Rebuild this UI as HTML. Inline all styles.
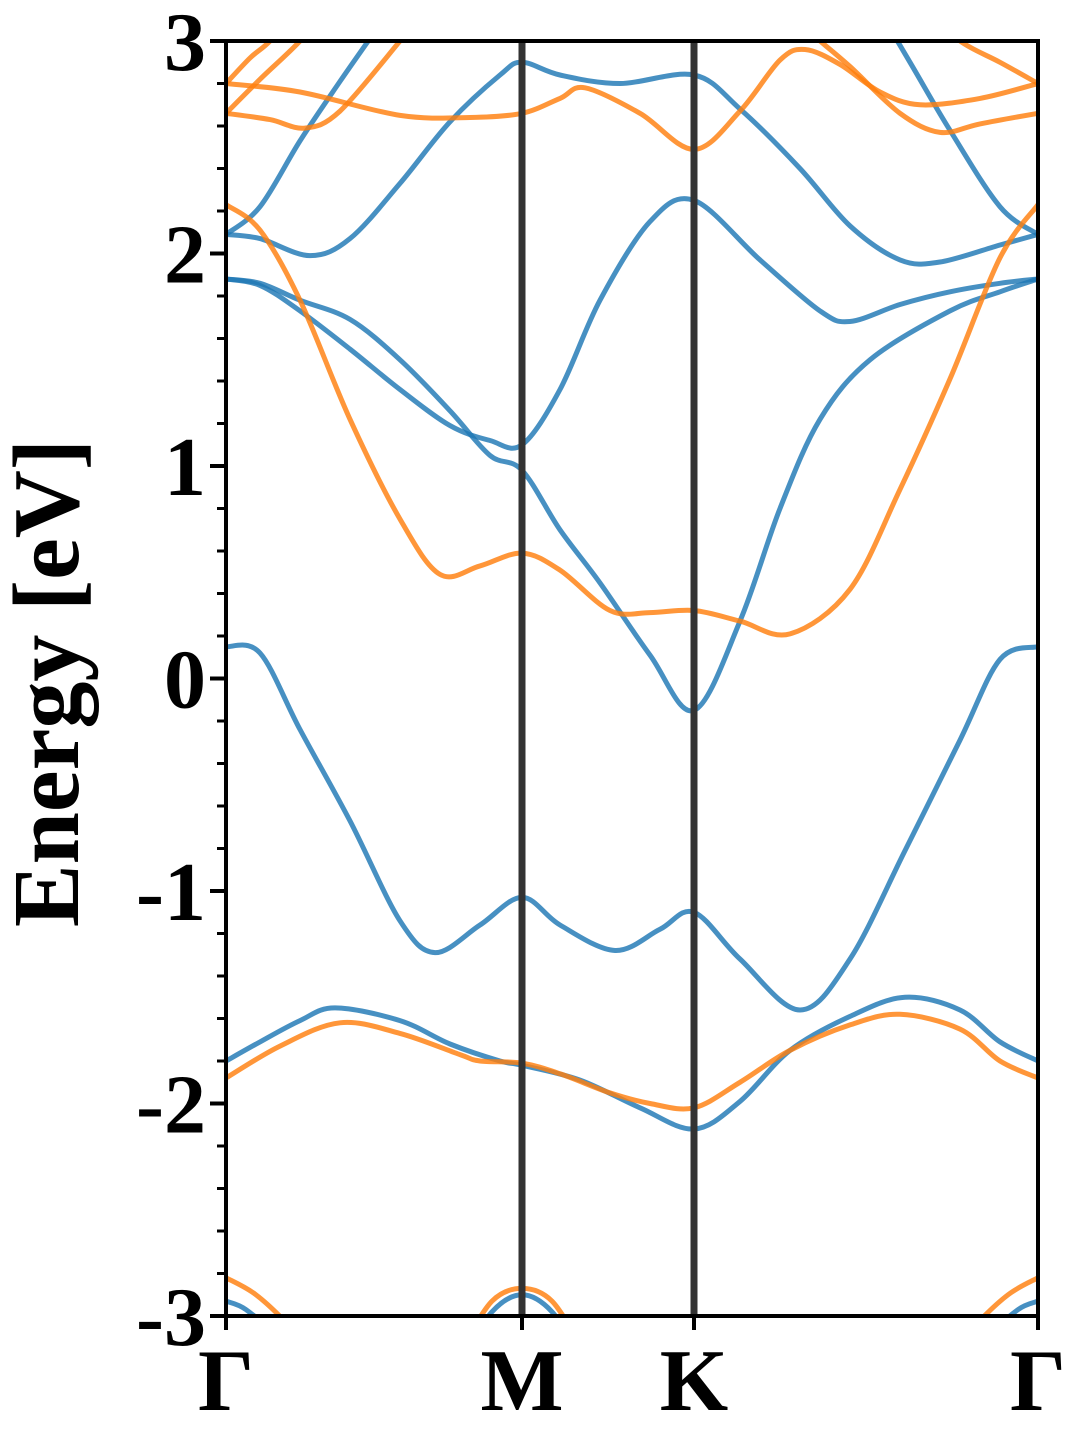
<!DOCTYPE html>
<html><head><meta charset="utf-8"><style>
html,body{margin:0;padding:0;background:#fff;}
svg text{font-family:"Liberation Serif",serif;font-weight:bold;fill:#000;}
</style></head><body>
<svg id="chart" width="1080" height="1440" viewBox="0 0 1080 1440" xmlns="http://www.w3.org/2000/svg">
<defs><clipPath id="plotclip"><rect x="226" y="41" width="812" height="1275"/></clipPath></defs>
<g id="bands" clip-path="url(#plotclip)"></g>
<g id="vlines"></g>
<g id="axes"></g>
<text transform="translate(78,683) rotate(-90)" text-anchor="middle" font-size="94">Energy [eV]</text>
</svg>
<script>
// path coordinate (0 = Γ, 812 = Γ end), energies in eV
const kTicks = [0, 296, 468, 812];
const kLabels = ["Γ", "M", "K", "Γ"];
const yTicks = [-3, -2, -1, 0, 1, 2, 3];
const yMin = -3, yMax = 3;

const blueBands = [
  {k:[0,34,74,124,174,209,254,296,334,389,434,468,514,574,624,679,734,774,812],
   e:[0.15,0.12,-0.24,-0.67,-1.14,-1.29,-1.16,-1.03,-1.16,-1.28,-1.18,-1.10,-1.32,-1.56,-1.32,-0.81,-0.29,0.09,0.15]},
  {k:[0,34,74,124,174,224,264,296,334,374,424,468,514,554,594,644,724,774,812],
   e:[1.88,1.86,1.78,1.69,1.50,1.26,1.05,0.98,0.70,0.45,0.11,-0.15,0.27,0.80,1.22,1.50,1.73,1.82,1.88]},
  {k:[0,34,74,124,174,224,264,296,334,374,424,468,534,594,624,674,724,774,812],
   e:[1.88,1.85,1.73,1.55,1.36,1.19,1.12,1.10,1.36,1.78,2.15,2.25,1.97,1.73,1.68,1.76,1.82,1.86,1.88]},
  {k:[0,34,84,124,174,224,274,296,334,394,468,514,574,624,674,714,774,812],
   e:[2.09,2.07,1.99,2.07,2.33,2.62,2.84,2.90,2.84,2.80,2.84,2.68,2.40,2.13,1.97,1.96,2.04,2.09]},
  {k:[0,34,74,114,157,200],
   e:[2.09,2.22,2.53,2.81,3.10,3.40]},
  {k:[812,774,724,684,640],
   e:[2.09,2.22,2.58,2.90,3.25]},
  {k:[0,34,74,109,174,224,274,296,354,414,468,514,564,624,679,734,774,812],
   e:[-1.80,-1.71,-1.61,-1.55,-1.61,-1.72,-1.80,-1.82,-1.89,-2.02,-2.12,-1.99,-1.75,-1.59,-1.50,-1.56,-1.71,-1.80]},
  {k:[0,20,50,80],e:[-2.93,-2.97,-3.10,-3.30]},
  {k:[236,266,296,326,356],e:[-3.2,-2.98,-2.90,-2.98,-3.2]},
  {k:[812,792,762,732],e:[-2.93,-2.97,-3.10,-3.30]}
];
const orangeBands = [
  {k:[0,54,114,174,234,254,296,334,384,424,468,514,564,624,674,734,774,812],
   e:[-1.88,-1.73,-1.62,-1.67,-1.77,-1.80,-1.81,-1.86,-1.95,-2.00,-2.02,-1.90,-1.75,-1.63,-1.58,-1.65,-1.80,-1.88]},
  {k:[0,34,74,124,174,214,254,296,334,384,424,468,514,564,624,674,724,774,812],
   e:[2.23,2.11,1.78,1.22,0.75,0.49,0.53,0.59,0.51,0.32,0.31,0.32,0.27,0.21,0.42,0.89,1.41,1.98,2.23]},
  {k:[0,74,174,244,296,334,359,414,468,514,554,579,614,654,694,754,812],
   e:[2.80,2.76,2.65,2.64,2.66,2.73,2.78,2.66,2.49,2.67,2.91,2.96,2.89,2.76,2.70,2.73,2.80]},
  {k:[0,44,79,114,174],e:[2.66,2.63,2.59,2.67,3.00]},
  {k:[0,34,74,110],e:[2.66,2.82,3.00,3.20]},
  {k:[0,24,44,70],e:[2.80,2.92,3.00,3.15]},
  {k:[812,754,714,674,624,594],e:[2.66,2.61,2.57,2.66,2.88,3.00]},
  {k:[812,774,734,700],e:[2.80,2.90,3.00,3.15]},
  {k:[0,30,64,100],e:[-2.82,-2.90,-3.05,-3.25]},
  {k:[236,266,296,326,356],e:[-3.15,-2.93,-2.87,-2.93,-3.15]},
  {k:[812,782,748,712],e:[-2.82,-2.90,-3.05,-3.25]}
];

const X0 = 226, X1 = 1038, Y0 = 41, Y1 = 1316;
function xs(k){ return X0 + (k - kTicks[0]) / (kTicks[kTicks.length-1] - kTicks[0]) * (X1 - X0); }
function ys(e){ return Y1 - (e - yMin) / (yMax - yMin) * (Y1 - Y0); }

function smoothPath(pts){
  let d = "M" + pts[0][0].toFixed(1) + "," + pts[0][1].toFixed(1);
  for (let i = 0; i < pts.length - 1; i++){
    const p0 = pts[Math.max(0,i-1)], p1 = pts[i], p2 = pts[i+1], p3 = pts[Math.min(pts.length-1,i+2)];
    const c1x = p1[0] + (p2[0]-p0[0])/6, c1y = p1[1] + (p2[1]-p0[1])/6;
    const c2x = p2[0] - (p3[0]-p1[0])/6, c2y = p2[1] - (p3[1]-p1[1])/6;
    d += " C" + c1x.toFixed(1)+","+c1y.toFixed(1)+" "+c2x.toFixed(1)+","+c2y.toFixed(1)+" "+p2[0].toFixed(1)+","+p2[1].toFixed(1);
  }
  return d;
}
const NS = "http://www.w3.org/2000/svg";
const gB = document.getElementById("bands");
function drawBands(list, color, name){
  list.forEach(function(b, i){
    const pts = b.k.map(function(k, j){ return [xs(k), ys(b.e[j])]; });
    const p = document.createElementNS(NS, "path");
    p.setAttribute("d", smoothPath(pts));
    p.setAttribute("fill", "none");
    p.setAttribute("stroke", color);
    p.setAttribute("stroke-width", "5");
    p.setAttribute("stroke-opacity", "0.82");
    
    
    gB.appendChild(p);
  });
}
drawBands(blueBands, "#1f77b4", "spin-up-band");
drawBands(orangeBands, "#ff7f0e", "spin-down-band");

const gV = document.getElementById("vlines");
kTicks.slice(1, -1).forEach(function(k, i){
  const l = document.createElementNS(NS, "line");
  l.setAttribute("x1", xs(k)); l.setAttribute("x2", xs(k));
  l.setAttribute("y1", Y0); l.setAttribute("y2", Y1);
  l.setAttribute("stroke", "#333"); l.setAttribute("stroke-width", "7");
  
  
  gV.appendChild(l);
});

const gA = document.getElementById("axes");
const frame = document.createElementNS(NS, "rect");
frame.setAttribute("x", X0); frame.setAttribute("y", Y0);
frame.setAttribute("width", X1 - X0); frame.setAttribute("height", Y1 - Y0);
frame.setAttribute("fill", "none"); frame.setAttribute("stroke", "#000"); frame.setAttribute("stroke-width", "4");


gA.appendChild(frame);

for (let v = yMin; v <= yMax + 1e-9; v += 0.2){
  const major = Math.abs(v - Math.round(v)) < 1e-6;
  const t = document.createElementNS(NS, "line");
  t.setAttribute("x1", X0 - (major ? 16 : 9)); t.setAttribute("x2", X0);
  t.setAttribute("y1", ys(v)); t.setAttribute("y2", ys(v));
  t.setAttribute("stroke", "#000"); t.setAttribute("stroke-width", major ? "4" : "3");
  
  
  gA.appendChild(t);
}
yTicks.forEach(function(v){
  const tx = document.createElementNS(NS, "text");
  tx.setAttribute("x", 206); tx.setAttribute("y", ys(v) + 29);
  tx.setAttribute("text-anchor", "end"); tx.setAttribute("font-size", "84");
  tx.textContent = v;
  
  
  gA.appendChild(tx);
});
kTicks.forEach(function(k, i){
  const t = document.createElementNS(NS, "line");
  t.setAttribute("x1", xs(k)); t.setAttribute("x2", xs(k));
  t.setAttribute("y1", Y1); t.setAttribute("y2", Y1 + 14);
  t.setAttribute("stroke", "#000"); t.setAttribute("stroke-width", "4");
  
  
  gA.appendChild(t);
  const tx = document.createElementNS(NS, "text");
  tx.setAttribute("x", xs(k)); tx.setAttribute("y", 1410);
  tx.setAttribute("text-anchor", "middle"); tx.setAttribute("font-size", "88");
  tx.textContent = kLabels[i];
  
  
  gA.appendChild(tx);
});
</script>
</body></html>
